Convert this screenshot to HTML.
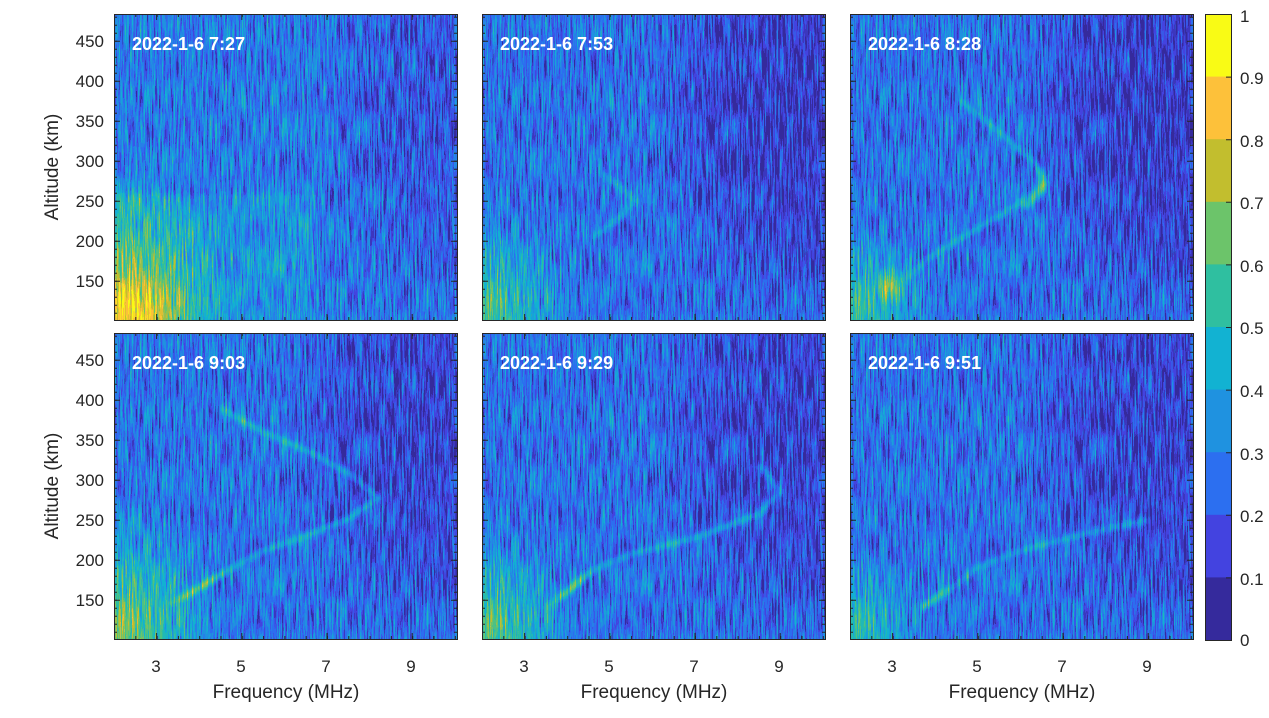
<!DOCTYPE html>
<html><head><meta charset="utf-8"><style>
html,body{margin:0;padding:0;background:#fff;width:1269px;height:718px;overflow:hidden}
svg{position:absolute;left:0;top:0;display:block}
text{font-family:"Liberation Sans",Arial,sans-serif;fill:#262626}
</style></head><body>
<svg width="1269" height="718" xmlns="http://www.w3.org/2000/svg" xmlns:xlink="http://www.w3.org/1999/xlink">
<defs>
<filter id="pm" x="0" y="0" width="1" height="1" color-interpolation-filters="sRGB">
 <feTurbulence type="fractalNoise" baseFrequency="0.6 0.03" numOctaves="3" seed="7" result="t"/>
 <feColorMatrix in="t" type="matrix" values="1 0 0 0 0  1 0 0 0 0  1 0 0 0 0  0 0 0 0 1" result="g"/>
 <feComposite in="SourceGraphic" in2="g" operator="arithmetic" k1="0" k2="1" k3="0.8" k4="-0.4" result="v"/>
 <feComponentTransfer in="v">
  <feFuncR type="discrete" tableValues=".208 .263 .173 .122 .071 .184 .424 .761 .992 .976"/>
  <feFuncG type="discrete" tableValues=".165 .263 .435 .573 .698 .749 .769 .745 .757 .984"/>
  <feFuncB type="discrete" tableValues=".612 .878 .941 .878 .824 .627 .416 .180 .227 .082"/>
  <feFuncA type="linear" slope="0" intercept="1"/>
 </feComponentTransfer>
</filter>
<filter id="bl" x="-20%" y="-20%" width="140%" height="140%"><feGaussianBlur stdDeviation="2.5"/></filter>
<radialGradient id="low"><stop offset="0" stop-color="#fff" stop-opacity="0.8"/><stop offset="0.5" stop-color="#fff" stop-opacity="0.4"/><stop offset="1" stop-color="#fff" stop-opacity="0"/></radialGradient>
<radialGradient id="dark" cx="1" cy="0.3" r="0.75"><stop offset="0" stop-color="#000" stop-opacity="0.6"/><stop offset="0.6" stop-color="#000" stop-opacity="0.45"/><stop offset="1" stop-color="#000" stop-opacity="0"/></radialGradient>
<g id="tk" stroke="#262626" fill="none">
 <rect x="0.5" y="0.5" width="343" height="306"/>
 <line x1="0" y1="1.5" x2="343" y2="1.5" stroke-width="3" stroke-dasharray="1 20.3"/>
 <line x1="0" y1="304.5" x2="343" y2="304.5" stroke-width="3" stroke-dasharray="1 20.3"/>
 <line x1="42.1" y1="3" x2="343" y2="3" stroke-width="6" stroke-dasharray="1 84.2"/>
 <line x1="42.1" y1="303" x2="343" y2="303" stroke-width="6" stroke-dasharray="1 84.2"/>
 <line x1="1.5" y1="2.7" x2="1.5" y2="306" stroke-width="3" stroke-dasharray="1 7"/>
 <line x1="341.5" y1="2.7" x2="341.5" y2="306" stroke-width="3" stroke-dasharray="1 7"/>
 <line x1="3" y1="26.7" x2="3" y2="306" stroke-width="6" stroke-dasharray="1 39"/>
 <line x1="340" y1="26.7" x2="340" y2="306" stroke-width="6" stroke-dasharray="1 39"/>
</g>
<clipPath id="cp"><rect x="0" y="0" width="343" height="306"/></clipPath>
</defs>

<!-- Panel 1 -->
<g transform="translate(114,14)" clip-path="url(#cp)"><g filter="url(#pm)">
 <rect width="343" height="306" fill="rgb(72,72,72)"/>
 <rect x="150" y="0" width="193" height="306" fill="url(#dark)" opacity="0.6"/>
 <rect x="0" y="180" width="200" height="126" fill="#fff" opacity="0.1" filter="url(#bl)"/>
 <ellipse cx="0" cy="306" rx="120" ry="160" fill="url(#low)" opacity="0.9"/>
 <ellipse cx="25" cy="300" rx="55" ry="50" fill="url(#low)" opacity="0.7"/>
</g></g>
<!-- Panel 2 -->
<g transform="translate(482,14)" clip-path="url(#cp)"><g filter="url(#pm)">
 <rect width="343" height="306" fill="rgb(66,66,66)"/>
 <rect x="100" y="0" width="243" height="306" fill="url(#dark)"/>
 <ellipse cx="0" cy="306" rx="100" ry="120" fill="url(#low)" opacity="0.6"/>
 <polyline transform="translate(-482,-14)" points="593,237 618,219 635,201 623,189 601,173" fill="none" stroke="#fff" stroke-opacity="0.25" stroke-width="5" filter="url(#bl)"/>
</g></g>
<!-- Panel 3 -->
<g transform="translate(850,14)" clip-path="url(#cp)"><g filter="url(#pm)">
 <rect width="343" height="306" fill="rgb(66,66,66)"/>
 <rect x="100" y="0" width="243" height="306" fill="url(#dark)"/>
 <ellipse cx="0" cy="306" rx="90" ry="110" fill="url(#low)" opacity="0.55"/>
 <ellipse cx="40" cy="272" rx="18" ry="22" fill="url(#low)" opacity="0.7"/>
 <polyline transform="translate(-850,-14)" points="905,281 927,259 956,241 999,216 1029,197 1046,181 1037,165 1016,147 986,121 960,100" fill="none" stroke="#fff" stroke-opacity="0.28" stroke-width="5" filter="url(#bl)"/>
 <polyline transform="translate(-850,-14)" points="1025,208 1043,188 1040,168" fill="none" stroke="#fff" stroke-opacity="0.45" stroke-width="6" filter="url(#bl)"/>
</g></g>
<!-- Panel 4 -->
<g transform="translate(114,333)" clip-path="url(#cp)"><g filter="url(#pm)">
 <rect width="343" height="306" fill="rgb(68,68,68)"/>
 <rect x="100" y="0" width="243" height="306" fill="url(#dark)" opacity="0.85"/>
 <ellipse cx="0" cy="306" rx="110" ry="140" fill="url(#low)" opacity="0.75"/>
 <polyline transform="translate(-114,-333)" points="169,604 199,588 225,572 263,551 306,536 348,519 378,498 353,476 310,452 263,432 220,408" fill="none" stroke="#fff" stroke-opacity="0.3" stroke-width="5" filter="url(#bl)"/>
 <polyline transform="translate(-114,-333)" points="180,600 199,588 225,572" fill="none" stroke="#fff" stroke-opacity="0.3" stroke-width="5" filter="url(#bl)"/>
</g></g>
<!-- Panel 5 -->
<g transform="translate(482,333)" clip-path="url(#cp)"><g filter="url(#pm)">
 <rect width="343" height="306" fill="rgb(66,66,66)"/>
 <rect x="100" y="0" width="243" height="306" fill="url(#dark)" opacity="0.85"/>
 <ellipse cx="0" cy="306" rx="100" ry="120" fill="url(#low)" opacity="0.65"/>
 <polyline transform="translate(-482,-333)" points="546,608 567,592 593,570 631,554 695,538 759,514 780,492 759,464" fill="none" stroke="#fff" stroke-opacity="0.28" stroke-width="5" filter="url(#bl)"/>
 <polyline transform="translate(-482,-333)" points="560,598 575,585 590,572" fill="none" stroke="#fff" stroke-opacity="0.35" stroke-width="5" filter="url(#bl)"/>
</g></g>
<!-- Panel 6 -->
<g transform="translate(850,333)" clip-path="url(#cp)"><g filter="url(#pm)">
 <rect width="343" height="306" fill="rgb(66,66,66)"/>
 <rect x="100" y="0" width="243" height="306" fill="url(#dark)" opacity="0.85"/>
 <ellipse cx="0" cy="306" rx="80" ry="100" fill="url(#low)" opacity="0.5"/>
 <polyline transform="translate(-850,-333)" points="922,608 944,594 978,567 1020,551 1084,534 1148,520" fill="none" stroke="#fff" stroke-opacity="0.25" stroke-width="5" filter="url(#bl)"/>
 <polyline transform="translate(-850,-333)" points="922,608 935,598 948,588" fill="none" stroke="#fff" stroke-opacity="0.35" stroke-width="5" filter="url(#bl)"/>
</g></g>

<use xlink:href="#tk" href="#tk" x="114" y="14"/>
<use xlink:href="#tk" href="#tk" x="482" y="14"/>
<use xlink:href="#tk" href="#tk" x="850" y="14"/>
<use xlink:href="#tk" href="#tk" x="114" y="333"/>
<use xlink:href="#tk" href="#tk" x="482" y="333"/>
<use xlink:href="#tk" href="#tk" x="850" y="333"/>

<g font-weight="bold" font-size="18">
<text x="132" y="50" style="fill:#fff">2022-1-6 7:27</text>
<text x="500" y="50" style="fill:#fff">2022-1-6 7:53</text>
<text x="868" y="50" style="fill:#fff">2022-1-6 8:28</text>
<text x="132" y="369" style="fill:#fff">2022-1-6 9:03</text>
<text x="500" y="369" style="fill:#fff">2022-1-6 9:29</text>
<text x="868" y="369" style="fill:#fff">2022-1-6 9:51</text>
</g>

<g font-size="17" text-anchor="end">
<text x="104" y="47">450</text><text x="104" y="87">400</text><text x="104" y="127">350</text><text x="104" y="167">300</text><text x="104" y="207">250</text><text x="104" y="247">200</text><text x="104" y="287">150</text>
<text x="104" y="366">450</text><text x="104" y="406">400</text><text x="104" y="446">350</text><text x="104" y="486">300</text><text x="104" y="526">250</text><text x="104" y="566">200</text><text x="104" y="606">150</text>
</g>
<g font-size="19" text-anchor="middle">
<text transform="translate(58,167) rotate(-90)">Altitude (km)</text>
<text transform="translate(58,486) rotate(-90)">Altitude (km)</text>
<text x="286" y="698">Frequency (MHz)</text>
<text x="654" y="698">Frequency (MHz)</text>
<text x="1022" y="698">Frequency (MHz)</text>
</g>
<g font-size="17" text-anchor="middle">
<text x="156" y="672">3</text><text x="241" y="672">5</text><text x="326" y="672">7</text><text x="411" y="672">9</text>
<text x="524" y="672">3</text><text x="609" y="672">5</text><text x="694" y="672">7</text><text x="779" y="672">9</text>
<text x="892" y="672">3</text><text x="977" y="672">5</text><text x="1062" y="672">7</text><text x="1147" y="672">9</text>
</g>

<g>
<rect x="1205" y="14" width="26" height="63" fill="#f9fb15"/>
<rect x="1205" y="76.6" width="26" height="63" fill="#fdc13a"/>
<rect x="1205" y="139.2" width="26" height="63" fill="#c2be2e"/>
<rect x="1205" y="201.8" width="26" height="63" fill="#6cc46a"/>
<rect x="1205" y="264.4" width="26" height="63" fill="#2fbfa0"/>
<rect x="1205" y="327" width="26" height="63" fill="#12b2d2"/>
<rect x="1205" y="389.6" width="26" height="63" fill="#1f92e0"/>
<rect x="1205" y="452.2" width="26" height="63" fill="#2c6ff0"/>
<rect x="1205" y="514.8" width="26" height="63" fill="#4343e0"/>
<rect x="1205" y="577.4" width="26" height="62.6" fill="#352a9c"/>
<rect x="1205.5" y="14.5" width="26" height="626" fill="none" stroke="#262626"/>
<line x1="1228.5" y1="14" x2="1228.5" y2="641" stroke="#262626" stroke-width="5" stroke-dasharray="1 61.6"/>
</g>
<g font-size="17">
<text x="1240" y="22">1</text><text x="1240" y="84">0.9</text><text x="1240" y="147">0.8</text><text x="1240" y="209">0.7</text><text x="1240" y="272">0.6</text><text x="1240" y="334">0.5</text><text x="1240" y="397">0.4</text><text x="1240" y="460">0.3</text><text x="1240" y="522">0.2</text><text x="1240" y="585">0.1</text><text x="1240" y="646">0</text>
</g>
</svg>
</body></html>
